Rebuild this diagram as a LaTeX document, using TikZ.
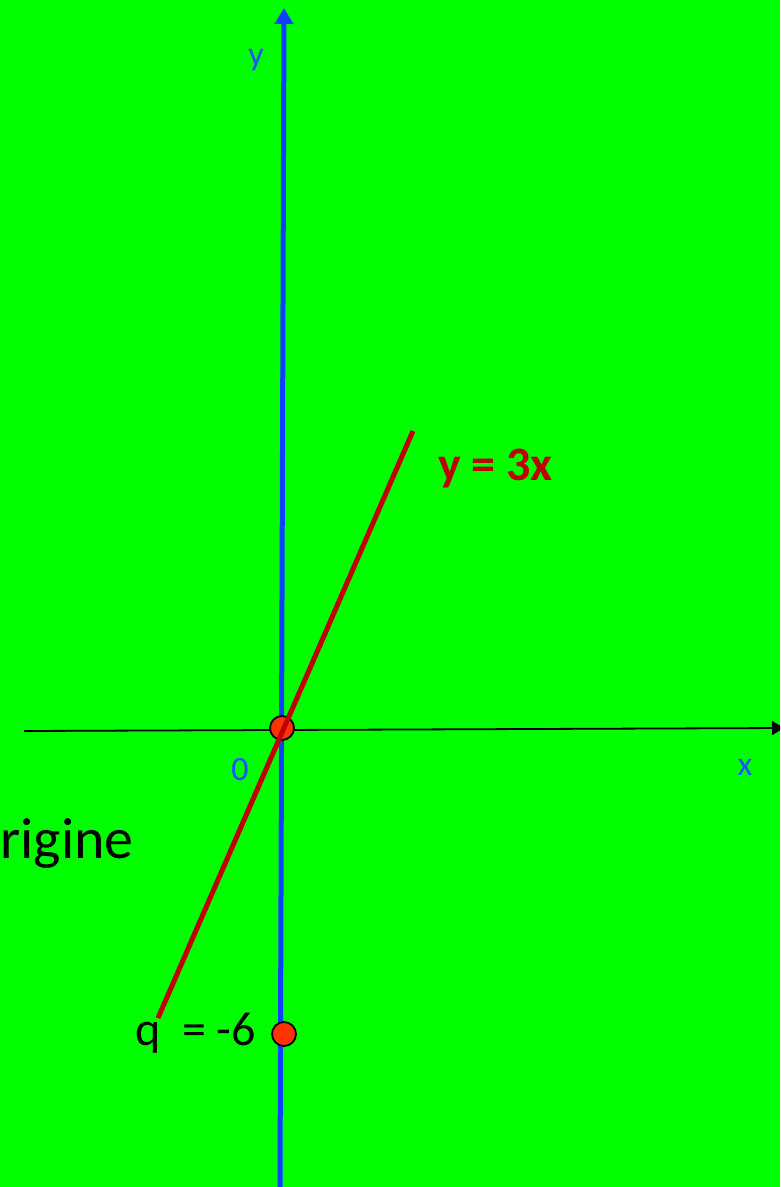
\documentclass[tikz,border=0pt]{standalone}
\usepackage{fontspec}
\setmainfont{Carlito}
\usetikzlibrary{arrows.meta}
\definecolor{bggreen}{HTML}{00FF00}
\definecolor{axisblue}{HTML}{1040FF}
\definecolor{lblblue}{HTML}{2050FF}
\definecolor{linered}{HTML}{C00000}
\definecolor{ptred}{HTML}{FF3300}
\tikzset{
  pt/.style={circle,draw=black,line width=1.8pt,fill=ptred,minimum size=24pt,inner sep=0pt},
  bluelbl/.style={text=lblblue,inner sep=0pt,font=\fontsize{34}{40}\selectfont},
  blacklbl/.style={text=black,inner sep=0pt},
}
\begin{document}
\begin{tikzpicture}[x=1pt,y=-1pt]
\useasboundingbox (0,0) rectangle (780,1187);
\clip (0,0) rectangle (780,1187);
\fill[bggreen] (0,0) rectangle (780,1187);
% coordinates
\coordinate (xs) at (24,731);
\coordinate (xe) at (784,728);
\coordinate (ys) at (280,1190);
\coordinate (ye) at (284,8);
\coordinate (r1) at (158,1018);
\coordinate (r2) at (413,431);
% x axis
\draw[black,line width=1.8pt,-{Triangle[length=12pt,width=14pt]}] (xs) -- (xe);
% y axis
\draw[axisblue,line width=5pt,-{Triangle[length=16pt,width=18pt]}] (ys) -- (ye);
% points
\node[pt] (O) at (282,728) {};
\node[pt] (Q) at (284,1034) {};
% red line
\draw[linered,line width=5pt] (r1) -- (r2);
% labels
\node[bluelbl] (ylab) at (256,60) {y};
\node[bluelbl] (zero) at (240,770) {0};
\node[bluelbl] (xlab) at (745,767) {x};
\node[inner sep=0pt,text=linered,font=\bfseries\fontsize{48}{54}\selectfont,anchor=base west] (eq) at (438,480) {y = 3x};
\node[blacklbl,font=\fontsize{58}{64}\selectfont,anchor=base west] (orig) at (0,858) {rigine};
\node[blacklbl,font=\fontsize{48}{54}\selectfont,anchor=base west] (qlab) at (135,1045) {q\ \ = -6};
\end{tikzpicture}
\end{document}
